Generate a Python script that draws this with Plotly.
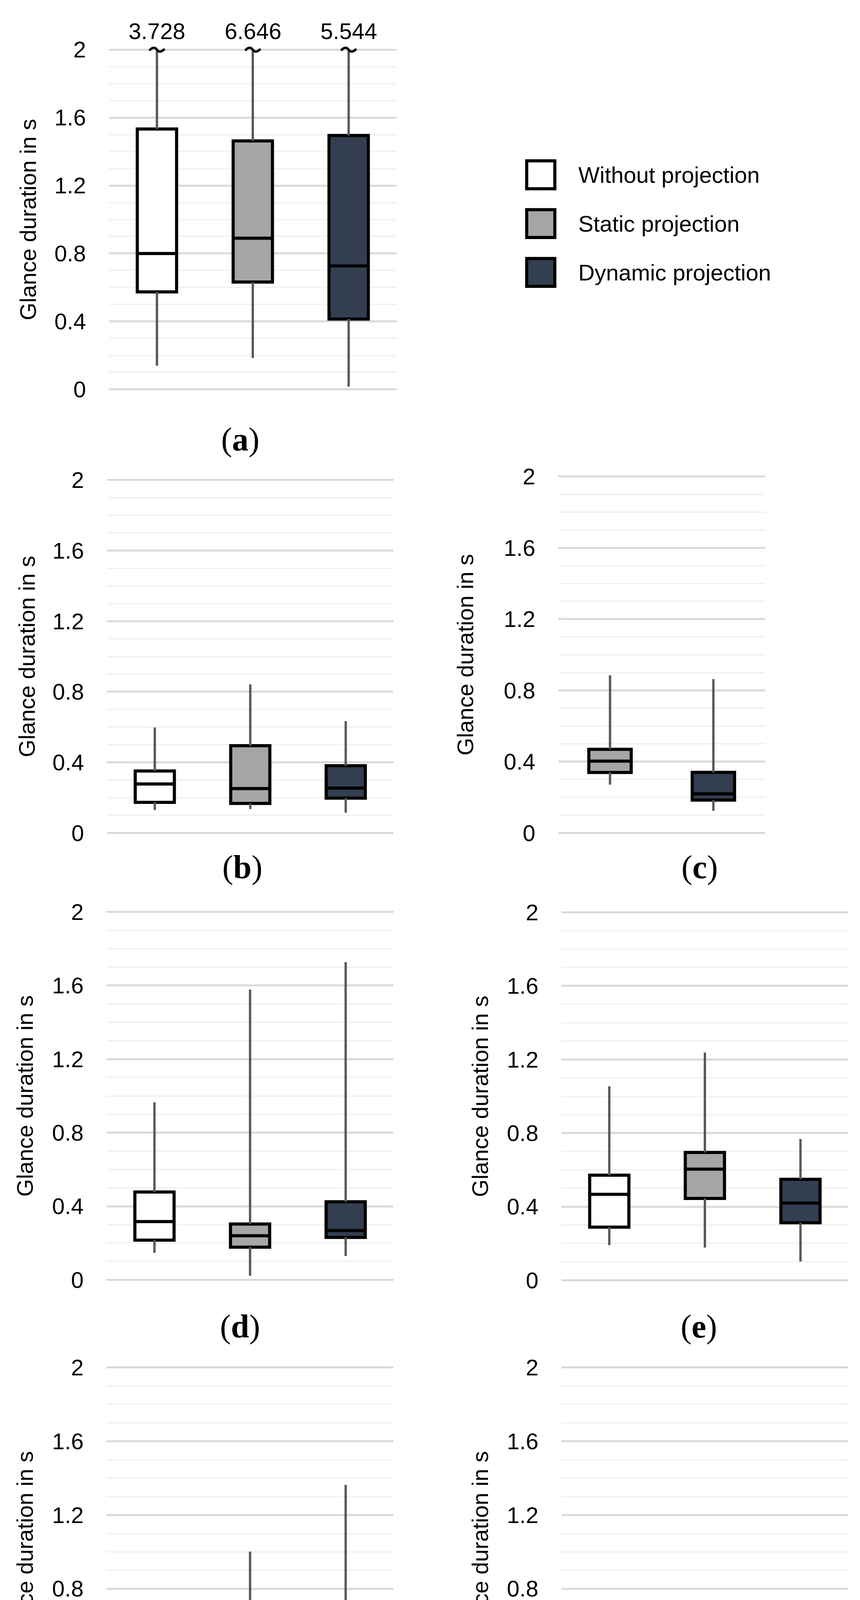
import plotly.graph_objects as go

# ---------------- data ----------------
categories = ["Without projection", "Static projection", "Dynamic projection"]
panel_names = ["a", "b", "c", "d", "e", "f", "g"]

# values per panel (a..g), order: Without, Static, Dynamic (None = not shown)
lower_whisker = [
    [0.140, 0.185, 0.016],
    [0.130, 0.135, 0.115],
    [None, 0.271, 0.124],
    [0.147, 0.023, 0.130],
    [0.191, 0.178, 0.102],
    [0.123, 0.156, 0.133],
    [0.138, 0.178, 0.163],
]
q1_values = [
    [0.574, 0.632, 0.414],
    [0.173, 0.167, 0.197],
    [None, 0.339, 0.184],
    [0.216, 0.178, 0.231],
    [0.289, 0.445, 0.313],
    [0.373, 0.336, 0.175],
    [0.157, 0.210, 0.207],
]
median_values = [
    [0.800, 0.890, 0.727],
    [0.277, 0.251, 0.254],
    [None, 0.403, 0.219],
    [0.317, 0.240, 0.268],
    [0.467, 0.604, 0.420],
    [0.489, 0.434, 0.185],
    [0.253, 0.221, 0.302],
]
q3_values = [
    [1.533, 1.463, 1.495],
    [0.351, 0.494, 0.381],
    [None, 0.469, 0.340],
    [0.478, 0.304, 0.425],
    [0.571, 0.695, 0.549],
    [0.523, 0.527, 0.353],
    [0.474, 0.233, 0.459],
]
upper_whisker = [
    [3.728, 6.646, 5.544],
    [0.598, 0.842, 0.633],
    [None, 0.885, 0.863],
    [0.965, 1.578, 1.727],
    [1.054, 1.238, 0.768],
    [0.533, 1.001, 1.363],
    [0.596, 0.350, 0.696],
]

tick_values = [0, 0.4, 0.8, 1.2, 1.6, 2.0]
tick_labels = ["0", "0.4", "0.8", "1.2", "1.6", "2"]
axis_max = 2.0
axis_title = "Glance duration in s"

# ---------------- styles / layout ----------------
W, H = 2201, 4660
fill_colors = ["#ffffff", "#a6a6a6", "#333f50"]
sans = "Liberation Sans, Arial, sans-serif"
serif = "Liberation Serif, Times New Roman, serif"
FS = 58
PAD = 0.03

# pixel geometry of each panel: x-left, x-right, y of value 2, y of value 0, title x, label x, label y
geom = {
    "a": (271, 1007, 100, 977, 64, 607, 1106),
    "b": (266, 999, 1211, 2122, 61, 612, 2211),
    "c": (1421, 1950, 1202, 2122, 1182, 1782, 2211),
    "d": (265, 999, 2326, 3276, 56, 606, 3396),
    "e": (1429, 2163, 2327, 3277, 1221, 1780, 3396),
    "f": (265, 999, 3502, 4454, 56, 605, 4600),
    "g": (1429, 2163, 3502, 4454, 1221, 1778, 4600),
}

fig = go.Figure()
layout = dict(
    width=W, height=H, margin=dict(l=0, r=0, t=0, b=0),
    paper_bgcolor="white", plot_bgcolor="white", showlegend=False,
    font=dict(family=sans, size=FS, color="black"),
)
annotations = []
shapes = []

for i, p in enumerate(panel_names):
    xl, xr, py2, py0, tx, lx, ly = geom[p]
    unit = (py0 - py2) / axis_max
    top = py2 - PAD * unit
    bot = py0 + PAD * unit
    ax = "" if i == 0 else str(i + 1)
    xref, yref = "x" + ax, "y" + ax

    cats = [c for c, v in zip(categories, q1_values[i]) if v is not None]
    cat_px = (xr - xl) / len(cats)

    layout["xaxis" + ax] = dict(
        domain=[xl / W, xr / W], anchor=yref, type="category",
        categoryorder="array", categoryarray=cats,
        range=[-0.5, len(cats) - 0.5], showticklabels=False,
        showgrid=False, zeroline=False, showline=False, fixedrange=True,
    )
    layout["yaxis" + ax] = dict(
        domain=[1 - bot / H, 1 - top / H], anchor=xref,
        range=[-PAD, axis_max + PAD], tickvals=tick_values, ticktext=tick_labels,
        showgrid=True, gridcolor="#d9d9d9", gridwidth=5,
        minor=dict(dtick=0.1, tick0=0, showgrid=True, gridcolor="#f2f2f2", gridwidth=4),
        zeroline=False, showline=False, ticks="", ticklabelstandoff=58,
        tickfont=dict(family=sans, size=FS, color="black"), fixedrange=True,
    )

    for j, cat in enumerate(categories):
        if q1_values[i][j] is None:
            continue
        lo, q1, med, q3, up = (lower_whisker[i][j], q1_values[i][j], median_values[i][j],
                               q3_values[i][j], upper_whisker[i][j])
        up_draw = min(up, axis_max)
        fig.add_trace(go.Box(
            x=[cat], q1=[q1], median=[med], q3=[q3], lowerfence=[q1], upperfence=[q3],
            fillcolor=fill_colors[j], line=dict(color="black", width=8),
            width=0.41, whiskerwidth=0, boxpoints=False,
            xaxis=xref, yaxis=yref, hoverinfo="skip",
        ))
        fig.add_trace(go.Scatter(
            x=[cat, cat, None, cat, cat], y=[lo, q1, None, q3, up_draw],
            mode="lines", line=dict(color="#595959", width=6),
            xaxis=xref, yaxis=yref, hoverinfo="skip",
        ))
        if up > axis_max:
            # axis-break mark (wavy stroke) on the clipped whisker
            k = cats.index(cat)
            a = 19.5 / cat_px          # half width of the mark, in category units
            h = 7.0 / unit             # amplitude, in data units
            Y = axis_max
            path = (f"M {k - a},{Y - 0.3 * h} "
                    f"C {k - 0.6 * a},{Y + h} {k - 0.25 * a},{Y + h} {k},{Y} "
                    f"C {k + 0.25 * a},{Y - h} {k + 0.6 * a},{Y - h} {k + a},{Y + 0.3 * h}")
            shapes.append(dict(type="path", xref=xref, yref=yref, path=path,
                               line=dict(color="black", width=6), layer="above"))
            # true maximum written above the break
            annotations.append(dict(
                x=cat, y=axis_max, xref=xref, yref=yref, text=f"{up:.3f}", showarrow=False,
                font=dict(family=sans, size=FS, color="black"),
                yanchor="middle", yshift=48,
            ))

    # axis title
    annotations.append(dict(
        x=tx / W, y=1 - ((py2 + py0) / 2) / H, xref="paper", yref="paper",
        text=axis_title, textangle=-90, showarrow=False,
        font=dict(family=sans, size=FS, color="black"),
        xanchor="center", yanchor="middle",
    ))
    # panel label
    annotations.append(dict(
        x=lx / W, y=1 - ly / H, xref="paper", yref="paper",
        text=f"(<b>{p}</b>)", showarrow=False,
        font=dict(family=serif, size=84, color="black"),
        xanchor="center", yanchor="middle",
    ))

# legend (drawn manually)
legend_y = [423, 549, 675]
sq = 72
for j, cat in enumerate(categories):
    cy = legend_y[j]
    shapes.append(dict(
        type="rect", xref="paper", yref="paper",
        x0=1340 / W, x1=(1340 + sq) / W,
        y0=1 - (cy + sq / 2) / H, y1=1 - (cy - sq / 2) / H,
        line=dict(color="black", width=8), fillcolor=fill_colors[j],
    ))
    annotations.append(dict(
        x=1470 / W, y=1 - cy / H, xref="paper", yref="paper", text=cat,
        showarrow=False, xanchor="left", yanchor="middle",
        font=dict(family=sans, size=FS, color="black"),
    ))

layout["annotations"] = annotations
layout["shapes"] = shapes
fig.update_layout(**layout)
fig.write_html("out.html")
